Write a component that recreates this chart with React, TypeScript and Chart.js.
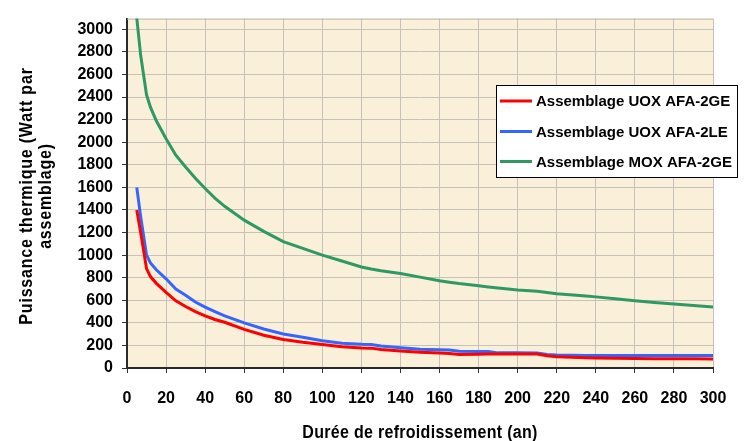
import React, { useEffect, useRef } from "react";
import { Chart, registerables } from "chart.js";

Chart.register(...registerables);

const years = [5, 7, 10, 12, 15, 20, 25, 30, 35, 40, 45, 50, 60, 70, 80, 90, 100, 110, 120, 125, 130, 140, 150, 160, 165, 170, 180, 185, 190, 200, 210, 215, 220, 235, 240, 250, 260, 270, 280, 290, 300];

const uox2ge = [1400, 1200, 880, 810, 750, 670, 595, 545, 500, 462, 430, 405, 342, 290, 252, 228, 208, 188, 178, 176, 163, 150, 140, 133, 128, 120, 122, 124, 124, 124, 124, 108, 100, 90, 88, 86, 84, 83, 82, 81, 80];

const uox2le = [1600, 1340, 1000, 930, 870, 790, 700, 645, 585, 540, 500, 462, 400, 345, 302, 272, 242, 220, 210, 208, 195, 180, 167, 162, 160, 148, 147, 147, 134, 134, 133, 120, 116, 110, 110, 110, 110, 110, 110, 110, 110];

const mox2ge = [3100, 2770, 2420, 2310, 2190, 2030, 1885, 1780, 1680, 1590, 1505, 1432, 1310, 1210, 1120, 1060, 1000, 948, 895, 877, 862, 837, 805, 772, 760, 748, 728, 718, 708, 690, 679, 668, 658, 638, 630, 613, 595, 580, 566, 553, 541];

const yTickValues = [0, 200, 400, 600, 800, 1000, 1200, 1400, 1600, 1800, 2000, 2200, 2400, 2600, 2800, 3000];
const xTickValues = [0, 20, 40, 60, 80, 100, 120, 140, 160, 180, 200, 220, 240, 260, 280, 300];

const seriesNames = ["Assemblage UOX AFA-2GE", "Assemblage UOX AFA-2LE", "Assemblage MOX AFA-2GE"];
const seriesColors = ["#FF0000", "#3366FF", "#2E9963"];
const xTitle = "Durée de refroidissement (an)";
const yTitleLines = ["Puissance thermique (Watt par", "assemblage)"];

const FONT = "'Liberation Sans', Arial, sans-serif";

const toPoints = (vals: number[]) => years.map((x, i) => ({ x, y: vals[i] }));

const decorPlugin = {
  id: "decor",
  beforeDraw(chart: any) {
    const { ctx, chartArea: a } = chart;
    ctx.save();
    ctx.fillStyle = "#FAEFD8";
    ctx.fillRect(a.left, a.top, a.right - a.left, a.bottom - a.top);
    ctx.restore();
  },
  beforeDatasetsDraw(chart: any) {
    const { ctx, chartArea: a } = chart;
    ctx.save();
    ctx.strokeStyle = "#B8B4AC";
    ctx.lineWidth = 1;
    ctx.beginPath();
    ctx.moveTo(a.left, a.top + 0.5);
    ctx.lineTo(a.right, a.top + 0.5);
    ctx.stroke();
    ctx.restore();
  },
  afterDraw(chart: any) {
    const { ctx, chartArea: a } = chart;
    ctx.save();
    ctx.fillStyle = "#000";
    ctx.font = `bold 16px ${FONT}`;
    (ctx as any).letterSpacing = "0.3px";
    ctx.textAlign = "center";
    ctx.textBaseline = "alphabetic";
    ctx.save();
    ctx.translate((a.left + a.right) / 2, 438);
    ctx.scale(1, 1.1);
    ctx.fillText(xTitle, 0, 0);
    ctx.restore();

    (ctx as any).letterSpacing = "0.8px";
    const baseX = [32, 51];
    yTitleLines.forEach((line, i) => {
      ctx.save();
      ctx.translate(baseX[i], 196);
      ctx.rotate(-Math.PI / 2);
      ctx.scale(1, 1.1);
      ctx.fillText(line, 0, 0);
      ctx.restore();
    });
    (ctx as any).letterSpacing = "0px";

    const lx = 496, ly = 85, lw = 242, lh = 93;
    ctx.fillStyle = "#FFFFFF";
    ctx.fillRect(lx, ly, lw, lh);
    ctx.strokeStyle = "#000";
    ctx.lineWidth = 1;
    ctx.strokeRect(lx + 0.5, ly + 0.5, lw - 1, lh - 1);
    const rows = [101, 131.5, 161.5];
    ctx.font = `bold 15px ${FONT}`;
    ctx.textAlign = "left";
    ctx.textBaseline = "middle";
    seriesNames.forEach((name, i) => {
      ctx.strokeStyle = seriesColors[i];
      ctx.lineWidth = 3;
      ctx.beginPath();
      ctx.moveTo(500, rows[i]);
      ctx.lineTo(532, rows[i]);
      ctx.stroke();
      ctx.fillStyle = "#000";
      ctx.fillText(name, 536, rows[i] + 1);
    });
    ctx.restore();
  },
};

export default function App() {
  const ref = useRef<HTMLCanvasElement>(null);
  useEffect(() => {
    if (!ref.current) return;
    const gridColor = "#C6C2BA";
    const tickFont = { family: FONT, size: 16, weight: "bold" as const };
    const chart = new Chart(ref.current, {
      type: "line",
      data: {
        datasets: [uox2ge, uox2le, mox2ge].map((vals, i) => ({
          label: seriesNames[i],
          data: toPoints(vals),
          borderColor: seriesColors[i],
          backgroundColor: seriesColors[i],
          borderWidth: 3,
          pointRadius: 0,
          tension: 0,
          fill: false,
        })),
      },
      options: {
        responsive: false,
        animation: false,
        layout: { padding: { top: 9, right: 34, left: 0, bottom: 0 } },
        plugins: { legend: { display: false }, tooltip: { enabled: false }, title: { display: false } },
        scales: {
          x: {
            type: "linear",
            min: 0,
            max: 300,
            afterFit: (s: any) => { s.height = 73; },
            afterBuildTicks: (s: any) => { s.ticks = xTickValues.map((v) => ({ value: v })); },
            ticks: { padding: 16, color: "#000", font: tickFont, callback: (v: any) => String(v) },
            grid: { color: gridColor, lineWidth: 1, tickLength: 5, tickColor: "#333" },
            border: { color: "#2A2A2A", width: 2 },
          },
          y: {
            type: "linear",
            min: 0,
            max: 3095,
            afterFit: (s: any) => { s.width = 127; },
            afterBuildTicks: (s: any) => { s.ticks = yTickValues.map((v) => ({ value: v })); },
            ticks: { padding: 9, color: "#000", font: tickFont, callback: (v: any) => String(v) },
            grid: { color: gridColor, lineWidth: 1, tickLength: 5, tickColor: "#333" },
            border: { color: "#2A2A2A", width: 2 },
          },
        },
      },
      plugins: [decorPlugin],
    });
    return () => chart.destroy();
  }, []);
  return (
    <div style={{ position: "absolute", left: 0, top: 0, width: 747, height: 441, background: "#fff" }}>
      <canvas ref={ref} width={747} height={441} style={{ display: "block" }} />
    </div>
  );
}
